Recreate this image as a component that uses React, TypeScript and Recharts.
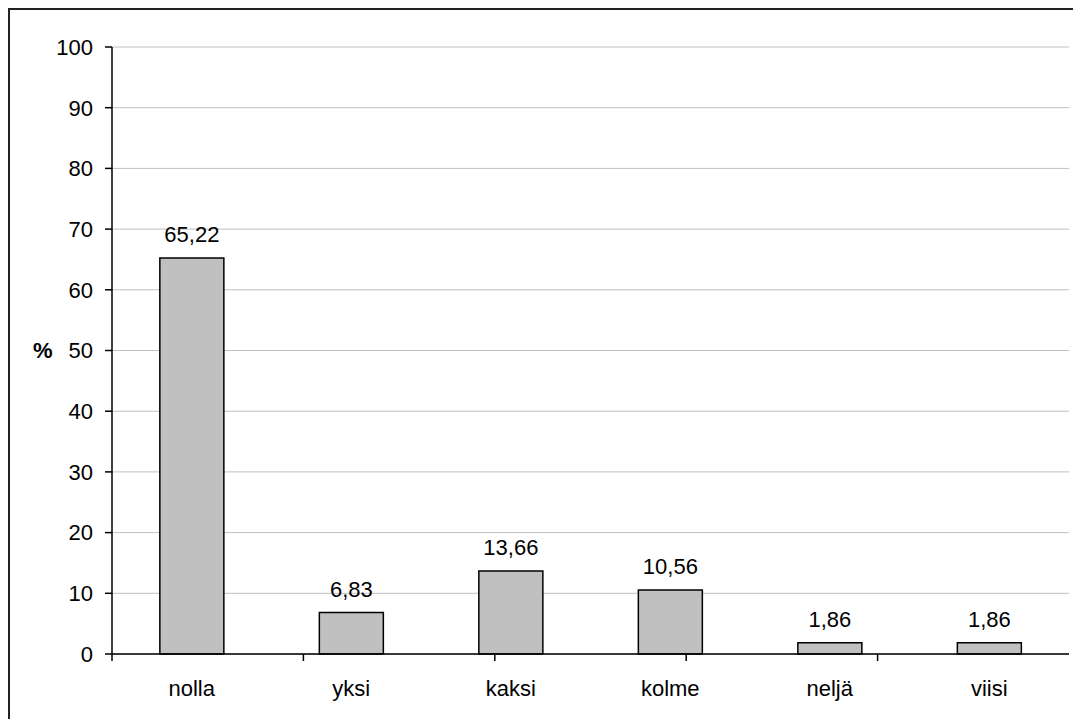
import { BarChart, Bar, XAxis, YAxis, CartesianGrid, LabelList, ReferenceLine } from "recharts";

const categories = ["nolla", "yksi", "kaksi", "kolme", "neljä", "viisi"];
const percents = [65.22, 6.83, 13.66, 10.56, 1.86, 1.86];
const yTicks = [0, 10, 20, 30, 40, 50, 60, 70, 80, 90, 100];
const boundaryTicks = [0, 1, 2, 3, 4, 5, 6];

const data = categories.map((name, i) => ({ name, value: percents[i] }));

const font = "'Liberation Sans', Arial, sans-serif";
const fmt = (v: number) => v.toFixed(2).replace(".", ",");

export default function App() {
  return (
    <div style={{ position: "absolute", left: 0, top: 0, width: 1073, height: 719, background: "#fff", overflow: "hidden", fontFamily: font }}>
      <div style={{ position: "absolute", left: 8, top: 8, width: 1200, height: 800, borderTop: "2px solid #222", borderLeft: "2px solid #222" }} />
      <BarChart
        width={1073}
        height={719}
        data={data}
        margin={{ top: 47, right: 4, bottom: 17, left: 0 }}
        barCategoryGap="30%"
        style={{ position: "absolute", left: 0, top: 0 }}
      >
        <CartesianGrid vertical={false} stroke="#c0c0c0" />
        <XAxis
          xAxisId={0}
          type="number"
          domain={[0, 6]}
          allowDataOverflow
          ticks={boundaryTicks}
          tickFormatter={() => ""}
          height={8}
          tickSize={7}
          stroke="#000"
          strokeWidth={1.5}
        />
        <XAxis
          xAxisId="cat"
          dataKey="name"
          height={40}
          axisLine={false}
          tickLine={false}
          tickSize={0}
          tickMargin={18}
          tick={{ fill: "#000", fontSize: 22, fontFamily: font }}
          interval={0}
        />
        <YAxis
          domain={[0, 100]}
          ticks={yTicks}
          interval={0}
          width={112}
          tickSize={7}
          tickMargin={12}
          stroke="#000"
          strokeWidth={1.5}
          tick={{ fill: "#000", fontSize: 22, fontFamily: font }}
          label={{ value: "%", position: "insideLeft", offset: 33, fill: "#000", fontSize: 22, fontWeight: "bold", fontFamily: font }}
        />
        <ReferenceLine x={6} xAxisId={0} stroke="#c0c0c0" />
        <Bar dataKey="value" xAxisId="cat" fill="#c0c0c0" stroke="#000" strokeWidth={1.5} isAnimationActive={false}>
          <LabelList dataKey="value" position="top" offset={16} formatter={(v: number) => fmt(v)} fill="#000" fontSize={22} fontFamily={font} />
        </Bar>
      </BarChart>
    </div>
  );
}
